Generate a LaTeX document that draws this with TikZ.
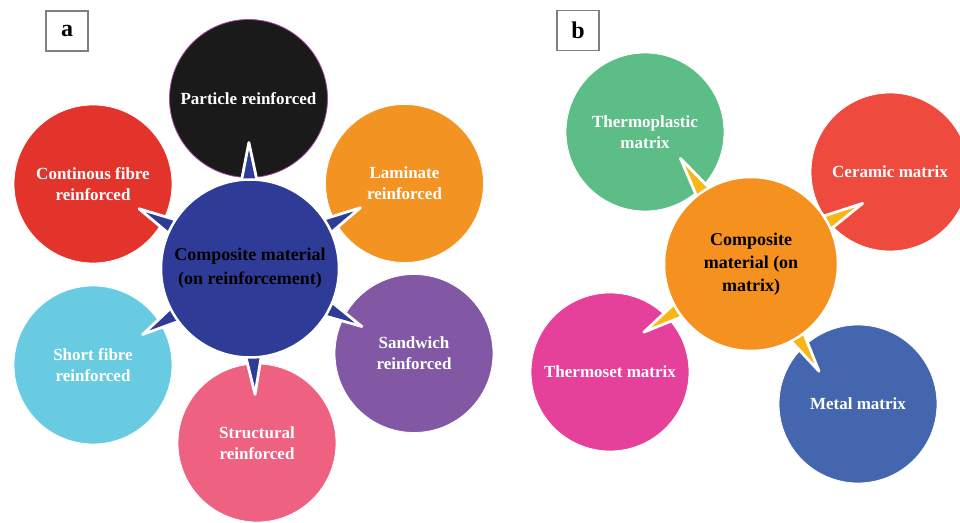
\documentclass[tikz,border=0pt]{standalone}
\usepackage{fontspec}
\setmainfont{Liberation Serif}
\usetikzlibrary{calc, backgrounds}

\definecolor{hubblue}{HTML}{2F3C97}
\definecolor{huborange}{HTML}{F5921F}
\definecolor{spikeyellow}{HTML}{FBB516}
\definecolor{partblack}{HTML}{1A1A1A}
\definecolor{contred}{HTML}{E3342B}
\definecolor{lamorange}{HTML}{F39322}
\definecolor{sandpurple}{HTML}{8258A5}
\definecolor{shortcyan}{HTML}{68CBE2}
\definecolor{structpink}{HTML}{EF6180}
\definecolor{plasticgreen}{HTML}{5CBD86}
\definecolor{ceramred}{HTML}{EE4B3E}
\definecolor{setpink}{HTML}{E5409A}
\definecolor{metalblue}{HTML}{4466AF}

\begin{document}
\begin{tikzpicture}[x=1pt, y=1pt,
      bubble/.style={circle, draw=white, line width=0.8pt, minimum size=158pt,
                     inner sep=0pt, align=center, text=white,
                     font=\fontsize{17}{21}\selectfont\bfseries},
      hub/.style={circle, draw=white, line width=2.5pt, inner sep=0pt,
                  align=center, text=black,
                  font=\fontsize{18}{24}\selectfont\bfseries},
      spike/.style={draw=white, line width=2.8pt, line join=round},
      tag/.style={draw=gray, fill=white, line width=1.2pt, minimum width=42pt,
                  minimum height=40pt, inner sep=0pt,
                  font=\fontsize{24}{24}\selectfont\bfseries}]

    \clip (0,0) rectangle (960,522);

    % ======= Panel a: by reinforcement =======
    \node[tag] (taga) at (67,491) {a};
    \node[hub, fill=hubblue, minimum size=178pt] (hubA) at (250,253.5)
        {Composite material\\(on reinforcement)};

    \begin{scope}[on background layer]
    \node[bubble, fill=partblack, draw=violet!70] (partic) at (248.5,423.5) {Particle reinforced};
    \node[bubble, fill=contred]    (contfib)  at (93,338)    {Continous fibre\\reinforced};
    \node[bubble, fill=lamorange]  (lamin)    at (404.5,338.5) {Laminate\\reinforced};
    \node[bubble, fill=sandpurple] (sandw)    at (414,168.5) {Sandwich\\reinforced};
    \node[bubble, fill=shortcyan]  (shortfib) at (93,157)    {Short fibre\\reinforced};
    \node[bubble, fill=structpink] (struct)   at (257,79)    {Structural\\reinforced};
    \end{scope}

    % ======= Panel b: by matrix =======
    \node[tag] (tagb) at (578,491.5) {b};
    \node[hub, fill=huborange, minimum size=174pt,
          font=\fontsize{18}{23}\selectfont\bfseries] (hubB) at (751,258)
        {Composite\\material (on\\matrix)};

    \begin{scope}[on background layer]
    \node[bubble, fill=plasticgreen] (plastic) at (645,390) {Thermoplastic\\matrix};
    \node[bubble, fill=ceramred]     (ceram)   at (890,350) {Ceramic matrix};
    \node[bubble, fill=setpink]      (tset)    at (610,150) {Thermoset matrix};
    \node[bubble, fill=metalblue]    (metal)   at (858,118) {Metal matrix};
    \end{scope}

    % spikes: hub -> each bubble (drawn under the hubs)
    \begin{scope}[on background layer]
    \foreach \o in {partic, contfib, lamin, sandw, shortfib, struct}
      \filldraw[spike, fill=hubblue] let \p1=($(\o)-(hubA)$), \n1={atan2(\y1,\x1)} in
        ($(hubA)+(\n1-5.5:86)$) -- ($(hubA)+(\n1:126)$) -- ($(hubA)+(\n1+5.5:86)$) -- cycle;
    % matrix spikes sit a few degrees clockwise of the centre line
    \foreach \o in {plastic, ceram, tset, metal}
      \filldraw[spike, fill=spikeyellow] let \p1=($(\o)-(hubB)$), \n1={atan2(\y1,\x1)-5} in
        ($(hubB)+(\n1-5.5:84)$) -- ($(hubB)+(\n1:127)$) -- ($(hubB)+(\n1+5.5:84)$) -- cycle;
    \end{scope}

\end{tikzpicture}
\end{document}
